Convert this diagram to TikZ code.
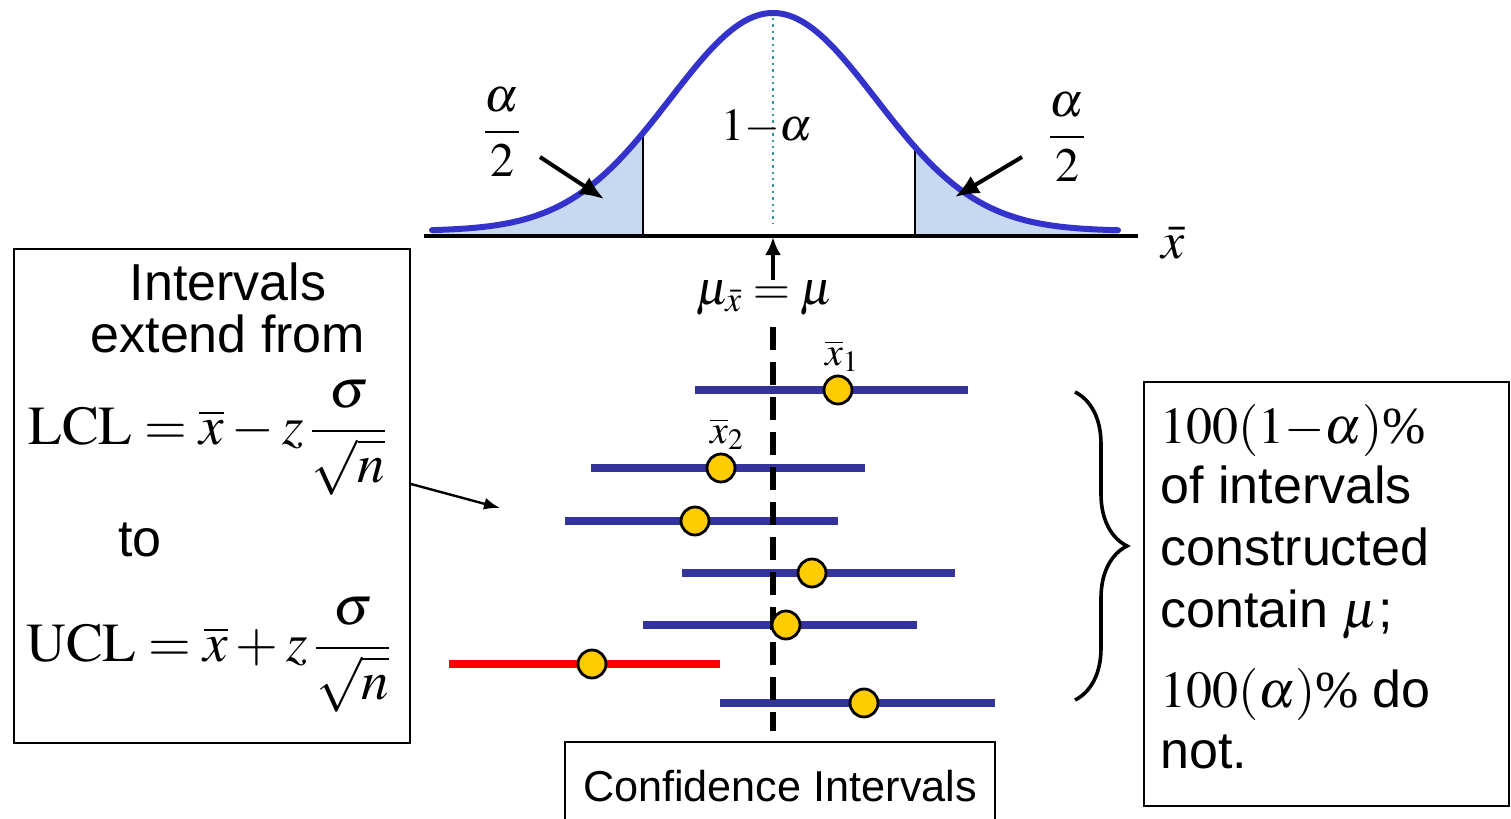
\documentclass[tikz,border=0pt]{standalone}
\usepackage{amsmath}
\usepackage{mathptmx}
\usepackage{fontspec}
\setmainfont{Liberation Serif}
\setsansfont{Liberation Sans}
\usepackage{tikz}
\usetikzlibrary{positioning,arrows.meta,calc,decorations.pathreplacing}
\definecolor{curveblue}{RGB}{51,51,204}
\definecolor{tailfill}{RGB}{198,217,241}
\definecolor{barblue}{RGB}{51,51,153}
\definecolor{dotgold}{RGB}{255,204,0}
\definecolor{meanteal}{RGB}{51,153,153}
\newcommand{\gaussy}[1]{231-218*exp(-1*(((#1-773)/100)^2)/2.1125)}

\begin{document}
\begin{tikzpicture}[x=0.5pt,y=-0.5pt,
  sanslbl/.style={font=\sffamily\fontsize{26}{31}\selectfont,inner sep=0pt},
  mathlbl/.style={font=\fontsize{23}{28}\selectfont,inner sep=0pt},
  box/.style={draw,line width=1pt,inner sep=0pt},
  bar/.style={line width=4pt},
  dot/.style={circle,draw=black,fill=dotgold,line width=1.4pt,minimum size=14pt,inner sep=0pt}]
\useasboundingbox (0,0) rectangle (1511,819);
\clip (0,0) rectangle (1511,819);
% sampling distribution of xbar with shaded tails
\fill[tailfill] (432,236) -- plot[domain=432:643,samples=40] (\x,{\gaussy{\x}}) -- (643,236) -- cycle;
\fill[tailfill] (915,236) -- plot[domain=915:1118,samples=40] (\x,{\gaussy{\x}}) -- (1118,236) -- cycle;
\draw[line width=1pt] (643,236) -- (643,{\gaussy{643}});
\draw[line width=1pt] (915,236) -- (915,{\gaussy{915}});
\draw[meanteal,dotted,line width=1.2pt] (773,18) -- (773,224);
\draw[curveblue,line width=3pt,line cap=round] plot[domain=432:1118,samples=120,smooth] (\x,{\gaussy{\x}});
\draw[line width=2pt] (424,236) -- (1138,236);
\coordinate (mu) at (773,237);
\node[mathlbl,font=\fontsize{26}{30}\selectfont] (xbar) at (1173,243) {$\bar{x}$};
\node[mathlbl] (onema) at (767,127) {$1{-}\alpha$};
\node[mathlbl,font=\fontsize{24}{29}\selectfont] (lhalf) at (502,132) {$\dfrac{\alpha}{2}$};
\node[mathlbl,font=\fontsize{24}{29}\selectfont] (rhalf) at (1067,137) {$\dfrac{\alpha}{2}$};
\coordinate (la) at (540,157);
\coordinate (ltail) at (604,199);
\coordinate (ra) at (1022,157);
\coordinate (rtail) at (955,197);
\draw[line width=2pt,-{Latex[length=12pt,width=10pt]}] (la) -- (ltail);
\draw[line width=2pt,-{Latex[length=12pt,width=10pt]}] (ra) -- (rtail);
% mean label and arrow
\node[mathlbl,font=\fontsize{24}{29}\selectfont] (mulbl) at (765,298) {$\mu_{\bar{x}}=\mu$};
\draw[line width=2pt,-{Latex[length=9pt,width=8pt]}] (mulbl.north -| mu) -- (mu);
% intervals
\foreach \i/\yy/\xa/\xb/\cc in {1/390/695/968/barblue,2/468/591/865/barblue,3/521/565/838/barblue,4/573/682/955/barblue,5/625/643/917/barblue,6/664/449/720/red,7/703/720/995/barblue}
  \draw[bar,\cc] (\xa,\yy) -- (\xb,\yy);
\coordinate (mtop) at (773,327);
\coordinate (mbot) at (773,731);
\draw[line width=2.6pt,dash pattern=on 11.5pt off 6pt] (mtop) -- (mbot);
\foreach \i/\yy/\xd in {1/390/838,2/468/721,3/521/695,4/573/812,5/625/786,6/664/592,7/703/864}
  \node[dot] (d\i) at (\xd,\yy) {};
\node[mathlbl,font=\fontsize{20}{24}\selectfont] (x1) at (842,356) {$\overline{x}_1$};
\node[mathlbl,font=\fontsize{20}{24}\selectfont] (x2) at (727,434) {$\overline{x}_2$};
% left box with the limits
\node[box,minimum width=198pt,minimum height=247pt] (lbox) at (212,496) {};
\node[sanslbl] (ivl) at (228,282) {Intervals};
\node[sanslbl] (ext) at (228,334) {extend from};
\node[mathlbl,font=\fontsize{27.5}{33}\selectfont,anchor=west] (lcl) at (28,438) {$\mathrm{LCL}=\overline{x}-z\,\dfrac{\sigma}{\sqrt{n}}$};
\node[sanslbl] (to) at (140,540) {to};
\node[mathlbl,font=\fontsize{27.5}{33}\selectfont,anchor=west] (ucl) at (26,655) {$\mathrm{UCL}=\overline{x}+z\,\dfrac{\sigma}{\sqrt{n}}$};
\coordinate (ptr) at (500,508);
\draw[line width=1.2pt,-{Latex[length=8pt,width=6pt]}] ([yshift=6pt]lbox.east) -- (ptr);
% brace and right box
\coordinate (btop) at (1075,392);
\coordinate (bbot) at (1075,700);
\draw[line width=1.8pt,decorate,decoration={brace,amplitude=26pt}] (btop) -- (bbot);
\node[box,minimum width=182.5pt,minimum height=212pt] (rbox) at (1326.5,594) {};
\foreach \yy/\tt in {443/{\rmfamily$100(1{-}\alpha)$\%},503/{of intervals},565/{constructed},627/{contain $\mu$;},707/{\rmfamily$100(\alpha)$\%\ \sffamily do},768/{not.}}
  \node[sanslbl,anchor=base west] at (1160,\yy) {\tt};
% bottom box
\node[box,minimum width=215pt,minimum height=44pt,font=\sffamily\fontsize{21.6}{26}\selectfont] (cibox) at (780,786) {Confidence Intervals};
\end{tikzpicture}
\end{document}
